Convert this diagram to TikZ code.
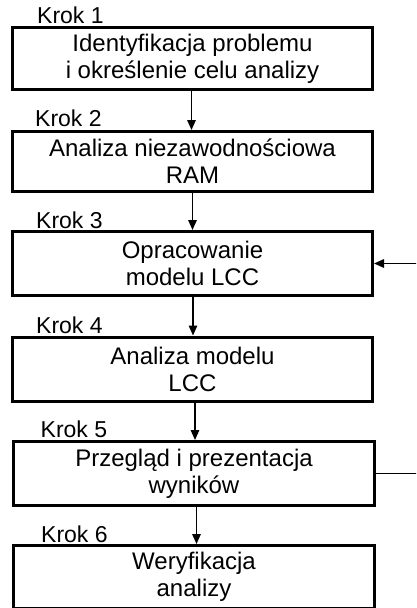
\documentclass[tikz,border=0pt]{standalone}
\usepackage{fontspec}
\setmainfont{Liberation Sans}
\usetikzlibrary{arrows.meta}
\tikzset{
  stepbox/.style={draw=black, line width=3pt, rectangle, align=center, inner sep=0pt,
    font=\fontsize{24}{27}\selectfont, minimum width=360pt},
  kroklabel/.style={anchor=base west, inner sep=0pt, font=\fontsize{23}{26}\selectfont},
  arr/.style={line width=1.5pt, -{Triangle[length=10pt,width=8.5pt]}},
  plainline/.style={line width=1.5pt}
}
\begin{document}
\begin{tikzpicture}[x=1pt,y=-1pt]
\useasboundingbox (0,0) rectangle (416,608);
\clip (0,0) rectangle (416,608);
\fill[white] (0,0) rectangle (416,608);

\node[stepbox, minimum height=62pt] (b1) at (192.5,58.5) {Identyfikacja problemu\\i określenie celu analizy};
\node[stepbox, minimum height=60pt] (b2) at (192.5,161.5) {Analiza niezawodnościowa\\RAM};
\node[stepbox, minimum height=64pt] (b3) at (192.5,263.5) {Opracowanie\\modelu LCC};
\node[stepbox, minimum height=64.5pt] (b4) at (192.5,369.25) {Analiza modelu\\LCC};
\node[stepbox, minimum height=64pt, minimum width=361pt] (b5) at (194,473.5) {Przegląd i prezentacja\\wyników};
\node[stepbox, minimum height=63pt, minimum width=361pt] (b6) at (194,577) {Weryfikacja\\analizy};

\node[kroklabel] (k1) at (37,23) {Krok 1};
\node[kroklabel] (k2) at (35,126) {Krok 2};
\node[kroklabel] (k3) at (36,228) {Krok 3};
\node[kroklabel] (k4) at (36,333) {Krok 4};
\node[kroklabel] (k5) at (40.5,437) {Krok 5};
\node[kroklabel] (k6) at (41,542) {Krok 6};

\draw[arr] ([xshift=-1pt]b1.south) -- ([xshift=-1pt]b1.south |- b2.north);
\draw[arr] (b2.south) -- (b2.south |- b3.north);
\draw[arr] ([xshift=0.5pt]b3.south) -- ([xshift=0.5pt]b3.south |- b4.north);
\draw[arr] ([xshift=2.5pt]b4.south) -- ([xshift=2.5pt]b4.south |- b5.north);
\draw[arr] ([xshift=2.5pt]b5.south) -- ([xshift=2.5pt]b5.south |- b6.north);

\coordinate (fbin) at (417,263.5);
\coordinate (fbout) at (417,473.5);
\draw[arr] (fbin) -- (b3.east);
\draw[plainline] (b5.east) -- (fbout);
\end{tikzpicture}
\end{document}
